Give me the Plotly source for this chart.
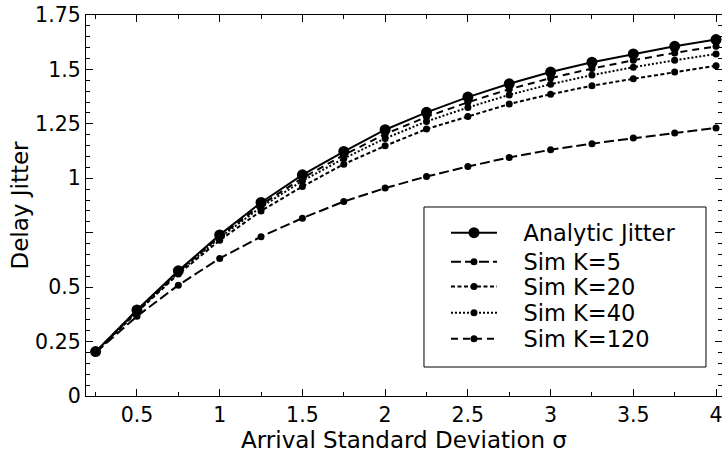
import plotly.graph_objects as go

sigma = [0.25, 0.5, 0.75, 1.0, 1.25, 1.5, 1.75, 2.0, 2.25, 2.5, 2.75, 3.0, 3.25, 3.5, 3.75, 4.0]
analytic = [0.204, 0.395, 0.575, 0.740, 0.889, 1.016, 1.123, 1.223, 1.303, 1.373, 1.434, 1.488, 1.533, 1.571, 1.606, 1.637]
sim_k5 = [0.200, 0.366, 0.509, 0.632, 0.732, 0.817, 0.893, 0.955, 1.008, 1.054, 1.096, 1.131, 1.159, 1.185, 1.208, 1.231]
sim_k20 = [0.200, 0.385, 0.560, 0.715, 0.850, 0.962, 1.065, 1.149, 1.226, 1.284, 1.341, 1.386, 1.425, 1.457, 1.488, 1.517]
sim_k40 = [0.201, 0.389, 0.566, 0.727, 0.868, 0.988, 1.091, 1.183, 1.261, 1.325, 1.383, 1.432, 1.474, 1.510, 1.542, 1.571]
sim_k120 = [0.202, 0.392, 0.570, 0.733, 0.878, 1.001, 1.107, 1.203, 1.282, 1.349, 1.409, 1.460, 1.504, 1.542, 1.576, 1.606]

y_tickvals = [0, 0.25, 0.5, 0.75, 1, 1.25, 1.5, 1.75]
y_ticktext = ["0", "0.25", "0.5", "", "1", "1.25", "1.5", "1.75"]
x_tickvals = [0.5, 1, 1.5, 2, 2.5, 3, 3.5, 4]
x_ticktext = ["0.5", "1", "1.5", "2", "2.5", "3", "3.5", "4"]

FONT = "DejaVu Sans"
PAD = "\u00a0\u00a0\u00a0"

series = [
    ("Analytic Jitter", analytic, "solid", 11),
    ("Sim K=5", sim_k5, "10px,4px", 7),
    ("Sim K=20", sim_k20, "4px,2.5px", 7),
    ("Sim K=40", sim_k40, "2px,2px", 7),
    ("Sim K=120", sim_k120, "7px,5px", 7),
]
legend_ids = ["legend", "legend2", "legend3", "legend4", "legend5"]
legend_rows_y = [0.4278, 0.3517, 0.2861, 0.2178, 0.1496]

fig = go.Figure()
for (name, vals, dash, msize), lid in zip(series, legend_ids):
    fig.add_trace(go.Scatter(
        x=sigma, y=vals, name=PAD + name, mode="lines+markers",
        line=dict(color="black", width=2, dash=dash),
        marker=dict(color="black", size=msize, symbol="circle"),
        legend=lid,
    ))

axis_common = dict(
    showgrid=False, zeroline=False, showline=True, linecolor="black", linewidth=1.3,
    ticks="inside", ticklen=7, tickwidth=1.2, tickcolor="black", mirror="ticks",
    tickfont=dict(family=FONT, size=20.5, color="black"),
)

fig.update_xaxes(
    range=[0.192, 4.036], tickvals=x_tickvals, ticktext=x_ticktext,
    ticklabeloverflow="allow",
    minor=dict(ticks="inside", ticklen=4, tickwidth=1, tickcolor="black", dtick=0.25, tick0=0.25),
    title=dict(text="Arrival Standard Deviation σ", font=dict(family=FONT, size=23, color="black"), standoff=3),
    **axis_common,
)
fig.update_yaxes(
    range=[0, 1.75], tickvals=y_tickvals, ticktext=y_ticktext,
    minor=dict(ticks="inside", ticklen=4, tickwidth=1, tickcolor="black", dtick=0.05, tick0=0),
    title=dict(text="Delay Jitter", font=dict(family=FONT, size=23, color="black"), standoff=0),
    **axis_common,
)

# legend frame
fig.add_shape(
    type="rect", xref="paper", yref="paper",
    x0=0.5314, x1=0.9748, y0=0.0761, y1=0.4961,
    line=dict(color="black", width=1), fillcolor="white", layer="above",
)

legend_style = dict(
    x=0.566, xanchor="left", yanchor="middle",
    bgcolor="rgba(0,0,0,0)", borderwidth=0,
    font=dict(family=FONT, size=22.5, color="black"),
    itemwidth=46, tracegroupgap=0,
)
layout_legends = {lid: dict(y=yy, **legend_style) for lid, yy in zip(legend_ids, legend_rows_y)}

fig.update_layout(
    width=722, height=456,
    margin=dict(l=86, r=0, t=15, b=60),
    paper_bgcolor="white", plot_bgcolor="white",
    font=dict(family=FONT, size=20, color="black"),
    showlegend=True,
    **layout_legends,
)

fig.write_html("out.html")
